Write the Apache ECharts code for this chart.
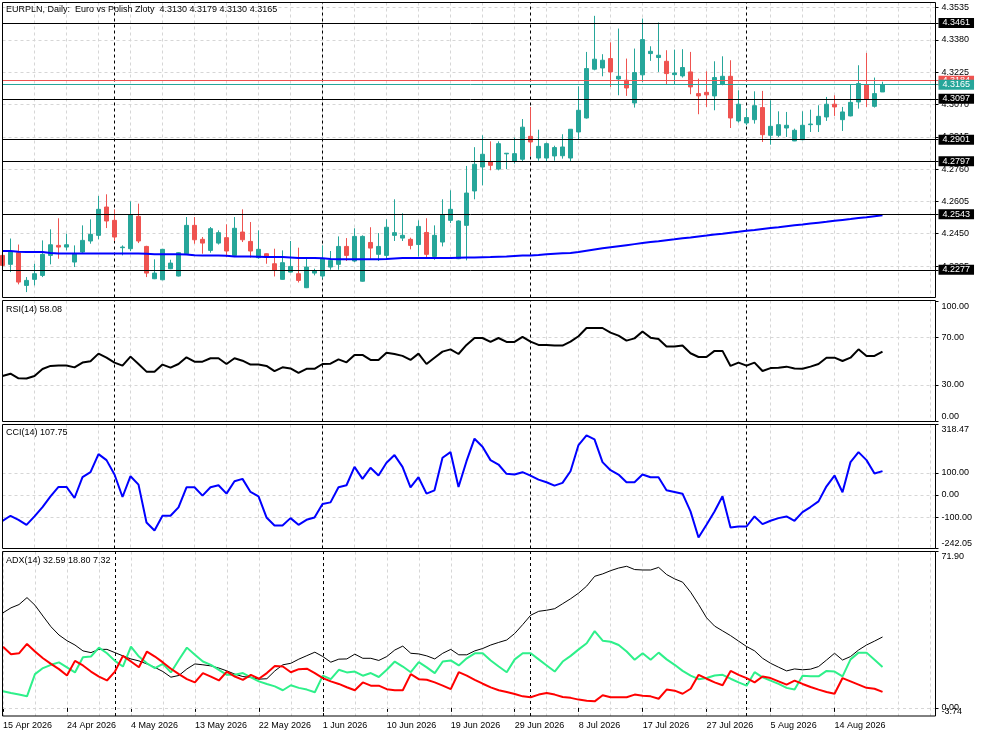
<!DOCTYPE html>
<html><head><meta charset="utf-8">
<script src="https://cdn.jsdelivr.net/npm/echarts@6/dist/echarts.min.js"></script>
<style>html,body{margin:0;padding:0;background:#fff}#c{width:983px;height:737px}</style>
</head><body><div id="c"></div>
<script>
const tickLabels = ['15 Apr 2026','24 Apr 2026','4 May 2026','13 May 2026','22 May 2026','1 Jun 2026','10 Jun 2026','19 Jun 2026','29 Jun 2026','8 Jul 2026','17 Jul 2026','27 Jul 2026','5 Aug 2026','14 Aug 2026'];

const opens = [
4.2346,4.2303,4.2359,4.2202,4.2231,4.2250,4.2346,4.2394,4.2386,4.2314,
4.2362,4.2415,4.2442,4.2578,4.2514,4.2383,4.2378,4.2533,4.2389,4.2234,
4.2229,4.2282,4.2247,4.2354,4.2490,4.2423,4.2370,4.2405,4.2431,4.2346,
4.2458,4.2413,4.2335,4.2354,4.2306,4.2231,4.2266,4.2258,4.2191,4.2261,
4.2247,4.2290,4.2303,4.2389,4.2319,4.2222,4.2408,4.2351,4.2346,4.2442,
4.2429,4.2423,4.2398,4.2456,4.2341,4.2410,4.2514,4.2330,4.2490,4.2655,
4.2770,4.2794,4.2760,4.2833,4.2797,4.2807,4.2917,4.2813,4.2813,4.2823,
4.2824,4.2813,4.2938,4.3005,4.3239,4.3245,4.3290,4.3192,4.3186,4.3077,
4.3212,4.3314,4.3295,4.3277,4.3213,4.3207,4.3226,4.3122,4.3128,4.3111,
4.3167,4.3205,4.2991,4.2981,4.2997,4.3055,4.2922,4.2922,4.2957,4.2895,
4.2901,4.2973,4.2973,4.3010,4.3071,4.2997,4.3015,4.3082,4.3165,4.3061,4.3130];
const highs = [
4.2352,4.2427,4.2398,4.2242,4.2306,4.2418,4.2471,4.2524,4.2450,4.2394,
4.2490,4.2519,4.2631,4.2639,4.2567,4.2394,4.2605,4.2594,4.2392,4.2327,
4.2377,4.2325,4.2362,4.2530,4.2530,4.2434,4.2482,4.2466,4.2495,4.2530,
4.2567,4.2506,4.2466,4.2356,4.2378,4.2370,4.2415,4.2383,4.2330,4.2282,
4.2394,4.2367,4.2437,4.2429,4.2476,4.2442,4.2481,4.2453,4.2519,4.2615,
4.2548,4.2431,4.2514,4.2524,4.2490,4.2615,4.2658,4.2514,4.2775,4.2865,
4.2922,4.2893,4.2893,4.2837,4.2911,4.3000,4.3058,4.2949,4.2887,4.2872,
4.2927,4.2952,4.3157,4.3322,4.3495,4.3311,4.3368,4.3434,4.3290,4.3338,
4.3482,4.3349,4.3463,4.3330,4.3333,4.3335,4.3322,4.3194,4.3229,4.3277,
4.3301,4.3282,4.3138,4.3047,4.3133,4.3135,4.3090,4.3037,4.3034,4.2954,
4.3037,4.3045,4.3066,4.3106,4.3114,4.3058,4.3165,4.3258,4.3317,4.3199,4.3179];
const lows = [
4.2290,4.2266,4.2207,4.2170,4.2202,4.2242,4.2303,4.2330,4.2370,4.2290,
4.2354,4.2402,4.2423,4.2477,4.2415,4.2346,4.2367,4.2405,4.2242,4.2232,
4.2227,4.2280,4.2245,4.2352,4.2402,4.2354,4.2359,4.2398,4.2338,4.2338,
4.2410,4.2335,4.2330,4.2306,4.2245,4.2229,4.2264,4.2216,4.2189,4.2250,
4.2234,4.2277,4.2277,4.2319,4.2314,4.2220,4.2330,4.2319,4.2330,4.2415,
4.2415,4.2375,4.2341,4.2338,4.2325,4.2389,4.2501,4.2328,4.2322,4.2615,
4.2682,4.2754,4.2754,4.2760,4.2786,4.2799,4.2823,4.2800,4.2797,4.2800,
4.2810,4.2797,4.2903,4.3002,4.3234,4.3205,4.3154,4.3114,4.3111,4.3055,
4.3178,4.3279,4.3226,4.3165,4.3165,4.3199,4.3119,4.3023,4.3058,4.3042,
4.3162,4.2957,4.2983,4.2970,4.2978,4.2890,4.2877,4.2914,4.2914,4.2894,
4.2898,4.2938,4.2938,4.2991,4.3015,4.2943,4.3013,4.3050,4.3058,4.3055,4.3130];
const closes = [
4.2298,4.2362,4.2218,4.2226,4.2258,4.2351,4.2397,4.2386,4.2397,4.2354,
4.2418,4.2447,4.2567,4.2511,4.2434,4.2386,4.2540,4.2415,4.2261,4.2261,
4.2375,4.2309,4.2359,4.2490,4.2421,4.2405,4.2474,4.2455,4.2367,4.2476,
4.2421,4.2367,4.2375,4.2338,4.2274,4.2311,4.2293,4.2226,4.2290,4.2271,
4.2330,4.2322,4.2389,4.2346,4.2437,4.2437,4.2381,4.2389,4.2481,4.2455,
4.2442,4.2394,4.2485,4.2351,4.2442,4.2540,4.2567,4.2511,4.2645,4.2783,
4.2831,4.2778,4.2882,4.2836,4.2834,4.2961,4.2890,4.2869,4.2882,4.2863,
4.2866,4.2951,4.3042,4.3242,4.3287,4.3282,4.3226,4.3205,4.3149,4.3223,
4.3381,4.3325,4.3306,4.3218,4.3221,4.3247,4.3154,4.3111,4.3116,4.3199,
4.3205,4.3005,4.3071,4.3007,4.3064,4.2925,4.2965,4.2973,4.2970,4.2946,
4.2970,4.2976,4.3013,4.3071,4.3058,4.3034,4.3080,4.3170,4.3095,4.3122,4.3165];
const ma = [
4.2367,4.2367,4.2364,4.2362,4.2362,4.2362,4.2358,4.2355,4.2355,4.2355,
4.2355,4.2355,4.2355,4.2355,4.2355,4.2355,4.2355,4.2355,4.2354,4.2352,
4.2352,4.2352,4.2352,4.2350,4.2347,4.2346,4.2346,4.2346,4.2344,4.2341,
4.2341,4.2341,4.2340,4.2338,4.2338,4.2338,4.2336,4.2333,4.2333,4.2333,
4.2332,4.2329,4.2328,4.2328,4.2328,4.2328,4.2328,4.2328,4.2329,4.2331,
4.2333,4.2333,4.2333,4.2333,4.2333,4.2333,4.2334,4.2335,4.2336,4.2336,
4.2337,4.2338,4.2340,4.2341,4.2343,4.2345,4.2346,4.2348,4.2351,4.2354,
4.2356,4.2358,4.2362,4.2368,4.2374,4.2380,4.2385,4.2390,4.2395,4.2400,
4.2405,4.2410,4.2414,4.2419,4.2423,4.2428,4.2432,4.2437,4.2441,4.2446,
4.2450,4.2455,4.2459,4.2464,4.2468,4.2473,4.2477,4.2481,4.2486,4.2490,
4.2494,4.2499,4.2503,4.2507,4.2512,4.2516,4.2520,4.2525,4.2529,4.2534,4.2538];
const rsi = [
37.6,39.5,35.6,35.4,37.6,43.4,46.0,46.3,46.3,44.8,
48.8,49.9,56.3,52.9,48.8,46.3,53.8,47.6,41.2,41.2,
47.1,44.6,47.6,53.2,49.6,49.6,52.4,52.4,47.6,52.4,
50.4,47.1,47.1,46.0,41.7,44.8,43.9,40.1,43.6,43.6,
47.6,47.9,51.5,49.0,55.2,55.2,51.0,51.0,57.1,56.0,
54.4,51.0,56.3,47.6,52.9,58.0,59.9,56.0,63.6,69.4,
69.4,66.1,69.4,66.1,66.1,70.3,66.4,63.6,63.6,63.1,
63.1,66.4,70.9,77.8,77.8,77.8,73.9,71.4,67.2,69.1,
74.8,69.7,68.6,62.2,62.2,63.1,56.6,53.5,53.5,58.6,
58.6,46.0,48.8,46.3,48.8,41.7,44.2,44.5,45.4,43.9,
43.6,45.4,47.6,52.9,52.9,50.1,52.9,59.9,54.4,54.4,58.08];
const cci = [
-116.8,-94.1,-112.3,-135,-97,-54.7,-6.2,36.2,36.2,-13.8,
80.2,102.9,184.7,157.4,92.3,-9.2,84.7,46.8,-124.4,-160.8,
-94.1,-94.1,-56.2,34.7,34.7,-3.2,34.7,43.8,5.9,62,
72.6,13.5,-6.2,-101.7,-138.1,-138.1,-104.7,-135,-112.3,-101.7,
-41,-33.5,34.7,43.8,127.1,72.6,122.6,87.7,145.3,180.2,
127.1,34.7,80.2,5.9,21,168,193.8,36.2,152.7,254.4,
218,157.4,137.6,95.3,92.3,102.9,87.7,69.5,57.4,42.3,
54.4,107.4,225.6,269.5,251.4,148.4,112,92.3,57.4,57.4,
92.3,80.2,80.2,21,13.5,5.9,-74.4,-192.6,-135,-74.4,
-6.2,-147.1,-142.6,-142.6,-97,-131.9,-116.8,-104.7,-97,-116.8,
-77.4,-54.7,-29,39.2,87.7,12,148.4,193.8,157.4,96.8,107.75];
const adx = [
43.7,46.0,47.5,50.7,47.2,42.2,37.3,33.5,30.9,28.9,
26.2,25.4,26.9,26.9,25.4,23.9,22.5,21.6,20.2,18.6,
16.7,14.1,14.9,17.9,20.2,19.8,19.3,18.3,17.0,15.5,
14.4,14.0,13.2,13.4,17.0,19.8,20.5,22.4,24.0,25.6,
23.6,21.0,22.4,22.5,24.7,22.8,22.8,21.8,23.6,26.6,
28.4,25.1,24.8,23.9,22.5,25.1,26.9,24.4,24.4,26.2,
27.3,28.9,30.1,31.2,34.2,38.3,42.6,44.4,44.9,45.6,
47.9,50.2,52.8,56.0,60.5,61.6,63.1,64.3,65.1,63.6,
63.4,63.4,64.6,61.3,59.3,57.8,53.2,47.5,41.4,37.6,
35.4,33.2,30.7,28.2,26.2,22.8,20.5,18.7,17.0,17.9,
17.5,17.8,19.0,22.0,25.1,22.0,23.6,26.6,28.9,30.7,32.59];
const plusDI = [
7.6,6.8,6.1,5.3,15.5,18.3,19.8,20.9,18.6,16.3,
23.3,23.6,27.7,25.1,21.6,19.0,28.2,23.6,20.5,18.3,
20.2,16.3,22.1,27.7,24.4,21.3,19.8,17.5,15.2,15.2,
16.0,14.0,12.2,11.0,9.9,8.1,10.4,9.2,8.4,7.2,
14.8,13.2,17.5,16.3,16.7,14.8,16.0,14.2,17.5,21.3,
19.0,16.4,21.0,18.6,16.0,21.3,21.8,19.5,22.8,25.1,
25.1,21.8,19.0,16.4,22.3,25.1,25.1,22.3,19.5,16.7,
21.3,23.9,26.9,29.7,35.3,30.9,30.4,28.9,25.9,22.1,
25.1,22.1,25.4,22.3,19.8,17.0,14.8,13.2,13.7,14.9,
15.2,13.4,11.7,10.2,16.4,14.0,12.5,11.0,9.2,8.4,
14.8,14.5,14.5,17.0,16.7,14.5,22.3,25.4,25.4,22.1,18.80];
const minusDI = [
28.1,24.7,25.1,29.4,25.9,22.8,20.2,17.8,14.9,21.6,
19.5,16.7,14.4,12.6,16.7,23.9,21.3,18.7,25.9,23.6,
20.9,18.0,15.5,13.2,11.7,16.0,14.4,12.6,16.7,14.4,
12.9,15.2,13.4,16.0,19.3,19.0,16.4,17.8,18.0,16.0,
13.7,12.2,11.0,9.5,8.1,11.7,10.2,10.2,8.6,8.1,
8.1,15.5,13.2,12.9,11.7,10.2,8.6,16.4,14.8,12.9,
11.1,9.4,8.1,7.3,6.4,5.3,4.9,6.1,6.8,6.1,
5.0,4.6,3.8,3.3,3.0,5.8,4.9,4.9,4.9,6.1,
5.6,5.3,4.2,8.4,7.9,6.5,8.8,15.2,13.4,11.7,
10.4,17.0,15.2,13.7,11.7,14.4,13.7,12.2,10.7,12.5,
11.0,9.6,8.4,7.3,6.5,13.7,12.2,10.7,9.2,8.8,7.32];

const priceTicks = [4.3535,4.3380,4.3225,4.3070,4.2915,4.2760,4.2605,4.2450,4.2295];
const levels = [4.3461,4.3097,4.2901,4.2797,4.2543,4.2277];
const bidPrice = 4.3165, askPrice = 4.3184;
const separators = [14,40,66,93];
const rsiTicks = [0,30,70,100], rsiGrid = [30,70];
const cciTicks = [-242.05,-100,0,100,318.47], cciGrid = [-100,0,100];
const adxTicks = [0,71.90], adxMinTick = [-3.74], adxGrid = [0];

const TOTAL = 118;
const categories = [];
for (let i = 0; i < TOTAL; i++) categories.push(i % 8 === 0 && tickLabels[i/8] ? tickLabels[i/8] : String(i));
const candleData = opens.map((o,i) => [o, closes[i], lows[i], highs[i]]);
const last = opens.length - 1;

const FONT = '"Liberation Sans", Arial, sans-serif';
const FS = 9;
const GRIDC = '#d6d6d6';
const UP = '#26a69a', DN = '#ef5350';

const grids = [
  {left:2.5, top:2.5, width:936, height:295},
  {left:2.5, top:300.5, width:936, height:121},
  {left:2.5, top:424.5, width:936, height:124},
  {left:2.5, top:551.5, width:936, height:164.5}
];
const xAxes = grids.map((g,gi) => ({
  type:'category', gridIndex:gi, data:categories, boundaryGap:false,
  axisLine:{show:false},
  axisTick:{show: gi===3, interval:(i)=> i%8===0 && i<=104, length:4, lineStyle:{color:'#000'}},
  axisLabel:{show: gi===3, interval:(i)=> i%8===0 && i<=104, align:'left', margin:5, color:'#000', fontSize:FS, fontFamily:FONT},
  splitLine:{show:true, interval:(i)=> i%4===0, lineStyle:{color:GRIDC, type:[3,3], width:1}}
}));
function richStyle(pad){ return {padding:pad, fontSize:FS, fontFamily:FONT, color:'#000'}; }
function yAx(gi, min, max, ticks, digits, topVal, bottomVal, showTicks) {
  return {
    type:'value', gridIndex:gi, position:'right', offset:-3, min:min, max:max,
    axisLine:{show:false}, splitLine:{show:false},
    axisTick:{show:showTicks !== false, customValues:ticks, length:3, lineStyle:{color:'#000'}},
    axisLabel:{customValues:ticks, margin:6, color:'#000', fontSize:FS, fontFamily:FONT,
      showMinLabel:true, showMaxLabel:true, hideOverlap:false,
      formatter:(v)=>{ const s = Number(v).toFixed(digits);
        if (topVal !== null && Math.abs(v-topVal)<1e-9) return '{t|'+s+'}';
        if (bottomVal !== null && Math.abs(v-bottomVal)<1e-9) return '{b|'+s+'}';
        return s; },
      rich:{t:richStyle([10,0,0,0]), b:richStyle([0,0,9,0])}}
  };
}
const yAxes = [
  yAx(0, 4.2144, 4.3559, priceTicks, 4, null, null),
  yAx(1, -0.6, 100.85, rsiTicks, 2, 100, 0),
  yAx(2, -242.05, 318.47, cciTicks, 2, 318.47, -242.05),
  yAx(3, -3.74, 71.90, adxTicks, 2, 71.90, null),
  yAx(3, -3.74, 71.90, adxMinTick, 2, null, -3.74, false)
];
function gridMarks(hvals) {
  return {symbol:'none', silent:true, animation:false, z:1, precision:6, label:{show:false},
    data: hvals.map(v=>({yAxis:v, lineStyle:{color:GRIDC, type:[3,3], width:1}}))
      .concat(separators.map(i=>({xAxis:i, lineStyle:{color:'#000', type:[3,3], width:1}})))};
}
function boxLabel(v, bg) {
  return {show:true, position:'end', distance:0, formatter:v.toFixed(4), color:'#fff', backgroundColor:bg,
    fontSize:FS, fontFamily:FONT, padding:[1,4,0,4], lineHeight:9};
}
const levelMarks = {symbol:'none', silent:true, animation:false, z:5, precision:6,
  data: levels.map(v=>({yAxis:v, lineStyle:{color:'#000', type:'solid', width:1}, label:boxLabel(v,'#000')}))
   .concat([{yAxis:askPrice, lineStyle:{color:DN, type:'solid', width:1}, label:boxLabel(askPrice,DN)},
            {yAxis:bidPrice, lineStyle:{color:UP, type:'solid', width:1}, label:boxLabel(bidPrice,UP)}])};

function lineS(xi, data, color, width, marks, z) {
  const s = {type:'line', xAxisIndex:xi, yAxisIndex:xi, data:data, symbol:'none', showSymbol:false,
    lineStyle:{color:color, width:width}, itemStyle:{color:color}, emphasis:{disabled:true}, z:z||3, animation:false};
  if (marks) s.markLine = marks;
  return s;
}
const f4 = v => v.toFixed(4), f2 = v => v.toFixed(2);
const titleStyle = {fontSize:FS, fontWeight:'normal', color:'#000', fontFamily:FONT};
const option = {
  animation:false,
  backgroundColor:'#fff',
  title:[
    {text:'EURPLN, Daily:  Euro vs Polish Zloty  '+[opens[last],highs[last],lows[last],closes[last]].map(f4).join(' '), left:6, top:5, padding:0, textStyle:titleStyle},
    {text:'RSI(14) '+f2(rsi[last]), left:6, top:305, padding:0, textStyle:titleStyle},
    {text:'CCI(14) '+f2(cci[last]), left:6, top:428, padding:0, textStyle:titleStyle},
    {text:'ADX(14) '+[adx[last],plusDI[last],minusDI[last]].map(f2).join(' '), left:6, top:556, padding:0, textStyle:titleStyle}
  ],
  grid:grids, xAxis:xAxes, yAxis:yAxes,
  series:[
    {type:'candlestick', xAxisIndex:0, yAxisIndex:0, data:candleData, barWidth:4, z:2,
     itemStyle:{color:UP, color0:DN, borderColor:UP, borderColor0:DN, borderWidth:1},
     emphasis:{disabled:true}, markLine:levelMarks},
    lineS(0, ma, '#0000ff', 2, gridMarks(priceTicks), 3),
    lineS(1, rsi, '#000000', 2, gridMarks(rsiGrid)),
    lineS(2, cci, '#0000ff', 2, gridMarks(cciGrid)),
    lineS(3, adx, '#000000', 1, gridMarks(adxGrid)),
    lineS(3, plusDI, '#2ef08a', 2, null),
    lineS(3, minusDI, '#ff0000', 2, null)
  ],
  graphic:[
    {type:'rect', silent:true, z:100, shape:{x:2.5,y:2.5,width:933,height:295}, style:{fill:'none', stroke:'#000', lineWidth:1}},
    {type:'rect', silent:true, z:100, shape:{x:2.5,y:300.5,width:933,height:121}, style:{fill:'none', stroke:'#000', lineWidth:1}},
    {type:'rect', silent:true, z:100, shape:{x:2.5,y:424.5,width:933,height:124}, style:{fill:'none', stroke:'#000', lineWidth:1}},
    {type:'rect', silent:true, z:100, shape:{x:2.5,y:551.5,width:933,height:164.5}, style:{fill:'none', stroke:'#000', lineWidth:1}}
  ]
};
const chart = echarts.init(document.getElementById('c'), null, {renderer:'canvas', width:983, height:737});
chart.setOption(option);
</script>
</body></html>
